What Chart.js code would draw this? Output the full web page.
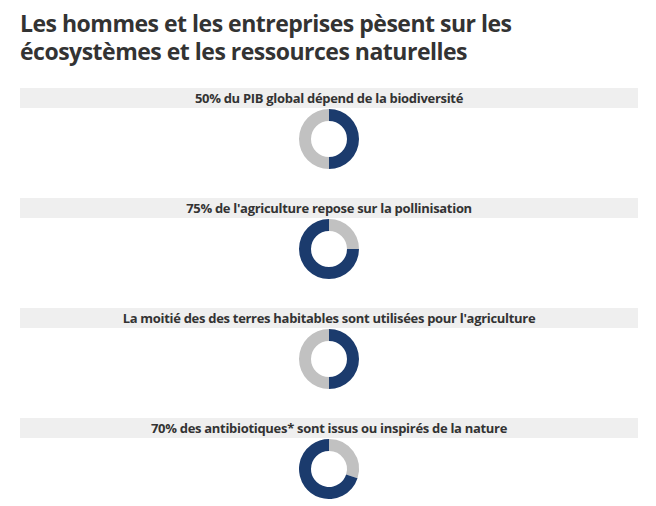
<!DOCTYPE html>
<html>
<head>
<meta charset="utf-8">
<script src="https://cdn.jsdelivr.net/npm/chart.js@4.4.0/dist/chart.umd.min.js"></script>
<style>
  body { margin: 0; background: #fff; font-family: "Open Sans", Lato, sans-serif; color: #333; }
  #wrap { position: relative; width: 656px; height: 506px; }
  h1 { position: absolute; left: 20px; top: 9px; margin: 0; font-size: 23px; line-height: 28px; font-weight: 700;
       letter-spacing: -0.5px; color: #333; width: 620px; }
  .band { position: absolute; left: 20px; width: 618px; height: 20px; line-height: 20px; background: #efefef;
          text-align: center; font-size: 13px; letter-spacing: -0.3px; font-weight: 700; color: #333; }
  .donut { position: absolute; left: 20px; width: 618px; height: 60px; }
</style>
</head>
<body>
<div id="wrap">
  <h1>Les hommes et les entreprises pèsent sur les<br>écosystèmes et les ressources naturelles</h1>
</div>
<script>
// panels
var panelLabels = [
    "50% du PIB global dépend de la biodiversité",
    "75% de l'agriculture repose sur la pollinisation",
    "La moitié des des terres habitables sont utilisées pour l'agriculture",
    "70% des antibiotiques* sont issus ou inspirés de la nature"
];
var shares = [50, 75, 50, 70];   // dark part
var others = [50, 25, 50, 30];   // grey part

var bandTops = [88, 198, 308, 418];
var rotations = [180, 0, 180, 0];

var wrap = document.getElementById('wrap');
for (var i = 0; i < panelLabels.length; i++) {
    var band = document.createElement('div');
    band.className = 'band';
    band.style.top = bandTops[i] + 'px';
    band.textContent = panelLabels[i];
    wrap.appendChild(band);

    var box = document.createElement('div');
    box.className = 'donut';
    box.style.top = (bandTops[i] + 21) + 'px';
    var cv = document.createElement('canvas');
    box.appendChild(cv);
    wrap.appendChild(box);

    new Chart(cv, {
        type: 'doughnut',
        data: {
            labels: ['Autre', 'Part'],
            datasets: [{
                data: [others[i], shares[i]],
                backgroundColor: ['#c1c1c1', '#1b3b6d'],
                borderWidth: 0,
                hoverOffset: 0
            }]
        },
        options: {
            responsive: true, maintainAspectRatio: false,
            animation: false,
            cutout: '60%',
            rotation: rotations[i],
            layout: { padding: 0 },
            plugins: {
                legend: { display: false },
                tooltip: { enabled: false }
            }
        }
    });
}
</script>
</body>
</html>
